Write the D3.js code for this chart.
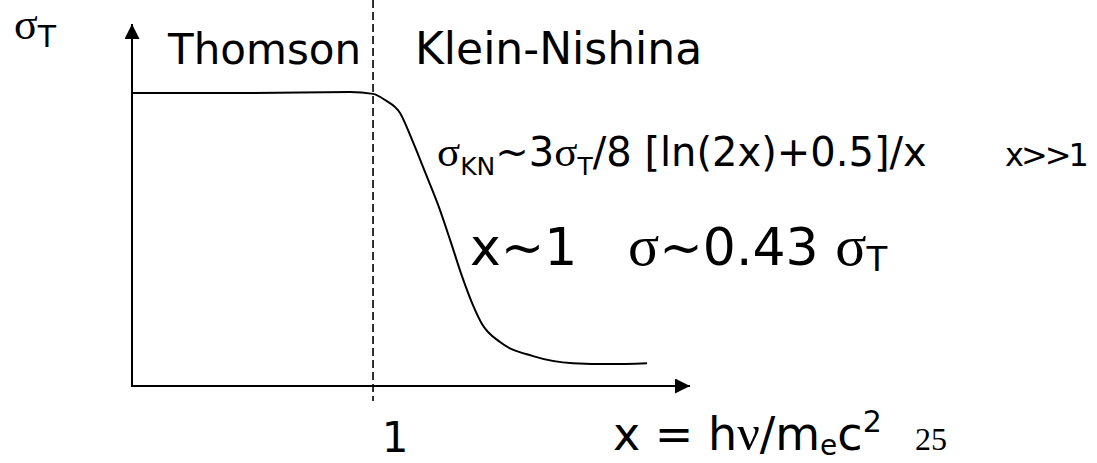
<!DOCTYPE html>
<html>
<head>
<meta charset="utf-8">
<script src="https://cdn.jsdelivr.net/npm/d3@7"></script>
<style>
  html, body { margin: 0; padding: 0; background: #fff; }
  svg { display: block; }
  .hand { font-family: "DejaVu Sans", sans-serif; fill: #000; }
  .greek { font-family: "Liberation Serif", serif; fill: #000; }
</style>
</head>
<body>
<svg id="chart" width="1097" height="463"></svg>
<script>
// Schematic cross-section: photon energy x (units of m_e c^2) vs sigma / sigma_T
const curveX = [0, 0.49, 0.905, 1.0, 1.05, 1.112, 1.162, 1.216, 1.270, 1.320, 1.369, 1.411, 1.452, 1.527, 1.664, 1.830, 1.983, 2.137];
const curveY = [1.0, 1.0, 1.003, 0.997, 0.976, 0.932, 0.840, 0.730, 0.618, 0.498, 0.375, 0.283, 0.212, 0.150, 0.102, 0.078, 0.075, 0.078];
const xDomain = [0, 2.315];
const yDomain = [0, 1.0];
const tickValues = [1];
const tickLabels = ["1"];

const svg = d3.select("#chart");

const x = d3.scaleLinear().domain(xDomain).range([132, 690]);
const y = d3.scaleLinear().domain(yDomain).range([386, 93]);

// arrow heads
const defs = svg.append("defs");
defs.append("marker")
  .attr("id", "arrow")
  .attr("viewBox", "0 0 15 15")
  .attr("refX", 15).attr("refY", 7.5)
  .attr("markerWidth", 15).attr("markerHeight", 15)
  .attr("markerUnits", "userSpaceOnUse")
  .attr("orient", "auto")
  .append("path")
  .attr("d", "M0,0 L15,7.5 L0,15 Z")
  .attr("fill", "#000");

// regime boundary at x = 1
svg.append("line")
  .attr("x1", x(1)).attr("x2", x(1))
  .attr("y1", 0).attr("y2", y(0) + 15)
  .attr("stroke", "#000")
  .attr("stroke-width", 1.6)
  .attr("stroke-dasharray", "8,4");

// axes
svg.append("line")
  .attr("x1", x(0)).attr("y1", y(0))
  .attr("x2", x(0)).attr("y2", 24)
  .attr("stroke", "#000").attr("stroke-width", 2)
  .attr("marker-end", "url(#arrow)");
svg.append("line")
  .attr("x1", x(0) - 1).attr("y1", y(0))
  .attr("x2", x(xDomain[1])).attr("y2", y(0))
  .attr("stroke", "#000").attr("stroke-width", 2)
  .attr("marker-end", "url(#arrow)");

// cross-section curve
const pts = curveX.map((d, i) => [d, curveY[i]]);
svg.append("path")
  .datum(pts)
  .attr("fill", "none")
  .attr("stroke", "#000")
  .attr("stroke-width", 2)
  .attr("d", d3.line().x(d => x(d[0])).y(d => y(d[1])).curve(d3.curveMonotoneX));

// tick label
svg.selectAll(".tick")
  .data(tickValues)
  .join("text")
  .attr("class", "hand")
  .attr("x", d => x(d) + 22)
  .attr("y", 452)
  .attr("text-anchor", "middle")
  .attr("font-size", 42)
  .text((d, i) => tickLabels[i]);

// y-axis label: sigma_T
const yl = svg.append("text").attr("x", 14).attr("y", 39);
yl.append("tspan").attr("class", "greek").attr("font-size", 44).text("σ");
yl.append("tspan").attr("class", "hand").attr("font-size", 30).attr("dy", 8).text("T");

// regime labels
svg.append("text").attr("class", "hand").attr("x", 168).attr("y", 64)
  .attr("font-size", 42).text("Thomson");
svg.append("text").attr("class", "hand").attr("x", 415).attr("y", 64)
  .attr("font-size", 44).text("Klein-Nishina");

// high-energy asymptote
const f = svg.append("text").attr("x", 437).attr("y", 166).attr("font-size", 40);
f.append("tspan").attr("class", "greek").attr("font-size", 43).text("σ");
f.append("tspan").attr("class", "hand").attr("font-size", 25).attr("dy", 9).text("KN");
f.append("tspan").attr("class", "hand").attr("dy", -9).text("~3");
f.append("tspan").attr("class", "greek").attr("font-size", 43).text("σ");
f.append("tspan").attr("class", "hand").attr("font-size", 25).attr("dy", 9).text("T");
f.append("tspan").attr("class", "hand").attr("dy", -9).text("/8 [ln(2x)+0.5]/x");
svg.append("text").attr("class", "hand").attr("x", 1005).attr("y", 166)
  .attr("font-size", 32).attr("letter-spacing", -3).text("x>>1");

// value near x ~ 1
svg.append("text").attr("class", "hand").attr("x", 470).attr("y", 265)
  .attr("font-size", 52).text("x~1");
const s = svg.append("text").attr("x", 628).attr("y", 265).attr("font-size", 52);
s.append("tspan").attr("class", "greek").attr("font-size", 58).text("σ");
s.append("tspan").attr("class", "hand").text("~0.43 ");
s.append("tspan").attr("class", "greek").attr("font-size", 58).text("σ");
s.append("tspan").attr("class", "hand").attr("font-size", 34).attr("dy", 6).text("T");

// x-axis title
const xt = svg.append("text").attr("x", 613).attr("y", 450).attr("font-size", 46);
xt.append("tspan").attr("class", "hand").text("x = h");
xt.append("tspan").attr("class", "greek").attr("font-size", 50).text("ν");
xt.append("tspan").attr("class", "hand").text("/m");
xt.append("tspan").attr("class", "hand").attr("font-size", 28).attr("dy", 5).text("e");
xt.append("tspan").attr("class", "hand").attr("dy", -5).text("c");
xt.append("tspan").attr("class", "hand").attr("font-size", 30).attr("dy", -18).text("2");

// page number
svg.append("text").attr("class", "greek").attr("x", 915).attr("y", 450)
  .attr("font-size", 32).text("25");
</script>
</body>
</html>
